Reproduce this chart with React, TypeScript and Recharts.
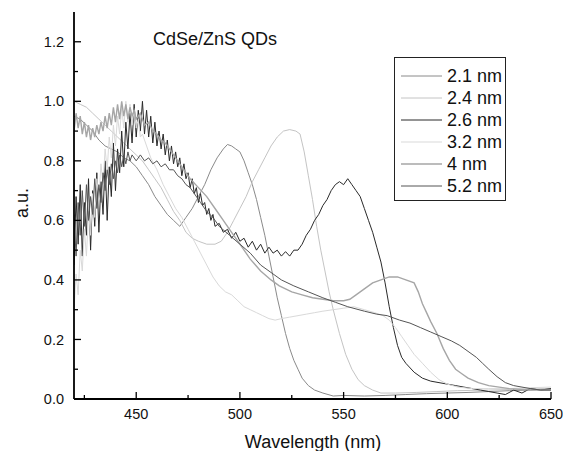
import { Legend, Line, LineChart, XAxis, YAxis } from "recharts";

type Pt = [number, number];

// [wavelength nm, normalised absorbance]
const s21: Pt[] = [
  [420, 0.95], [423, 0.94], [426, 0.92], [429, 0.9], [432, 0.87], [435, 0.85], [438, 0.84], [441, 0.83],
  [444, 0.81], [447, 0.8], [450, 0.78], [453, 0.75], [456, 0.72], [459, 0.68], [462, 0.65], [465, 0.62],
  [468, 0.6], [471, 0.58], [474, 0.61], [477, 0.64], [480, 0.68], [483, 0.72], [486, 0.77], [489, 0.81],
  [492, 0.84], [494, 0.855], [496, 0.85], [498, 0.84], [500, 0.83], [502, 0.8], [504, 0.76], [506, 0.72],
  [508, 0.67], [510, 0.61], [512, 0.55], [514, 0.48], [516, 0.41], [518, 0.34], [520, 0.28], [522, 0.22],
  [524, 0.17], [526, 0.13], [528, 0.1], [530, 0.07], [533, 0.045], [536, 0.03], [540, 0.02], [545, 0.01],
  [550, 0.012], [560, 0.01], [570, 0.012], [580, 0.015], [590, 0.018], [600, 0.02], [610, 0.022],
  [620, 0.025], [630, 0.028], [640, 0.03], [650, 0.035],
];

const s24: Pt[] = [
  [420, 1.0], [423, 0.99], [426, 0.98], [429, 0.96], [432, 0.94], [435, 0.92], [438, 0.9], [441, 0.88],
  [444, 0.86], [447, 0.84], [450, 0.82], [453, 0.8], [456, 0.77], [459, 0.74], [462, 0.71], [465, 0.67],
  [468, 0.63], [471, 0.6], [474, 0.56], [477, 0.54], [480, 0.53], [484, 0.52], [488, 0.52], [491, 0.53],
  [494, 0.56], [497, 0.6], [500, 0.64], [503, 0.68], [506, 0.73], [509, 0.77], [512, 0.81], [515, 0.85],
  [518, 0.88], [521, 0.9], [524, 0.905], [527, 0.9], [529, 0.89], [531, 0.83], [533, 0.75], [535, 0.67],
  [537, 0.58], [539, 0.5], [541, 0.43], [543, 0.36], [545, 0.3], [548, 0.22], [551, 0.15], [554, 0.1],
  [557, 0.065], [560, 0.045], [564, 0.03], [568, 0.02], [575, 0.02], [585, 0.022], [595, 0.025],
  [605, 0.028], [620, 0.03], [635, 0.033], [650, 0.035],
];

const s26: Pt[] = [
  [420, 0.45], [421, 0.68], [422, 0.52], [423, 0.72], [424, 0.48], [425, 0.66], [426, 0.55], [427, 0.74],
  [428, 0.5], [429, 0.7], [430, 0.58], [431, 0.76], [432, 0.56], [433, 0.73], [434, 0.62], [435, 0.8],
  [436, 0.6], [437, 0.78], [438, 0.68], [439, 0.86], [440, 0.7], [441, 0.84], [442, 0.76], [443, 0.9],
  [444, 0.78], [445, 0.93], [446, 0.84], [447, 0.96], [448, 0.86], [449, 0.99], [450, 0.88], [451, 0.97],
  [452, 0.9], [453, 1.0], [454, 0.89], [455, 0.97], [456, 0.88], [457, 0.95], [458, 0.86], [459, 0.93],
  [460, 0.85], [461, 0.9], [462, 0.84], [463, 0.89], [464, 0.82], [465, 0.87], [466, 0.8], [467, 0.85],
  [468, 0.79], [469, 0.83], [470, 0.78], [471, 0.81], [472, 0.75], [473, 0.79], [474, 0.74], [475, 0.76],
  [476, 0.71], [477, 0.74], [478, 0.69], [479, 0.71], [480, 0.66], [481, 0.69], [482, 0.65], [483, 0.66],
  [484, 0.62], [485, 0.64], [486, 0.6], [487, 0.62], [488, 0.58], [490, 0.59], [492, 0.56], [494, 0.57],
  [496, 0.54], [498, 0.56], [500, 0.53], [502, 0.54], [504, 0.51], [506, 0.53], [508, 0.5], [510, 0.52],
  [512, 0.49], [514, 0.51], [516, 0.49], [518, 0.5], [520, 0.48], [522, 0.495], [524, 0.48], [526, 0.5],
  [528, 0.5], [530, 0.52], [532, 0.55], [534, 0.57], [536, 0.6], [538, 0.62], [540, 0.65], [542, 0.67],
  [544, 0.7], [546, 0.72], [548, 0.73], [550, 0.72], [552, 0.74], [554, 0.72], [556, 0.7], [558, 0.68],
  [560, 0.64], [562, 0.6], [564, 0.56], [566, 0.51], [568, 0.46], [570, 0.39], [572, 0.31], [574, 0.24],
  [576, 0.18], [578, 0.14], [580, 0.12], [584, 0.09], [588, 0.07], [592, 0.06], [596, 0.055], [600, 0.05],
  [604, 0.045], [608, 0.04], [612, 0.035], [616, 0.03], [620, 0.025], [624, 0.02], [628, 0.015],
  [632, 0.03], [636, 0.02], [640, 0.035], [645, 0.03], [650, 0.035],
];

const s32: Pt[] = [
  [420, 0.3], [421, 0.42], [422, 0.35], [423, 0.5], [424, 0.43], [425, 0.57], [426, 0.48], [427, 0.63],
  [428, 0.55], [429, 0.69], [430, 0.61], [431, 0.74], [432, 0.67], [433, 0.79], [434, 0.72], [435, 0.84],
  [436, 0.77], [437, 0.88], [438, 0.81], [439, 0.92], [440, 0.85], [441, 0.95], [442, 0.89], [443, 0.98],
  [444, 0.91], [445, 1.0], [446, 0.93], [447, 0.99], [448, 0.92], [449, 0.97], [450, 0.91], [451, 0.94],
  [452, 0.88], [453, 0.89], [455, 0.85], [457, 0.81], [460, 0.77], [463, 0.72], [466, 0.68], [469, 0.64],
  [472, 0.61], [475, 0.57], [478, 0.53], [481, 0.49], [484, 0.45], [487, 0.41], [490, 0.38], [493, 0.36],
  [496, 0.35], [499, 0.33], [502, 0.31], [505, 0.3], [508, 0.29], [511, 0.28], [514, 0.27], [517, 0.265],
  [520, 0.27], [524, 0.275], [528, 0.28], [532, 0.285], [536, 0.29], [540, 0.295], [545, 0.3],
  [550, 0.305], [555, 0.31], [560, 0.3], [565, 0.29], [569, 0.28], [572, 0.265], [575, 0.24], [578, 0.21],
  [581, 0.18], [584, 0.15], [588, 0.12], [592, 0.09], [596, 0.065], [600, 0.05], [605, 0.04],
  [612, 0.035], [620, 0.035], [630, 0.035], [640, 0.038], [650, 0.04],
];

const s40: Pt[] = [
  [420, 0.9], [421, 0.96], [422, 0.91], [423, 0.95], [424, 0.89], [425, 0.93], [426, 0.88], [427, 0.92],
  [428, 0.87], [429, 0.91], [430, 0.88], [431, 0.92], [432, 0.89], [433, 0.93], [434, 0.9], [435, 0.95],
  [436, 0.91], [437, 0.96], [438, 0.92], [439, 0.98], [440, 0.93], [441, 0.99], [442, 0.94], [443, 1.0],
  [444, 0.95], [445, 0.99], [446, 0.94], [447, 0.98], [448, 0.95], [449, 0.97], [450, 0.94], [452, 0.96],
  [454, 0.92], [456, 0.93], [458, 0.9], [460, 0.89], [462, 0.87], [464, 0.86], [466, 0.84], [468, 0.82],
  [470, 0.8], [473, 0.77], [476, 0.74], [480, 0.71], [484, 0.68], [488, 0.64], [492, 0.6], [496, 0.56],
  [500, 0.52], [505, 0.47], [510, 0.43], [515, 0.4], [519, 0.38], [525, 0.36], [530, 0.35], [535, 0.34],
  [540, 0.335], [545, 0.33], [550, 0.33], [553, 0.335], [556, 0.35], [560, 0.37], [564, 0.39],
  [568, 0.4], [572, 0.41], [576, 0.41], [580, 0.4], [584, 0.39], [586, 0.36], [588, 0.32], [590, 0.29],
  [592, 0.26], [595, 0.22], [598, 0.17], [601, 0.13], [604, 0.1], [607, 0.085], [610, 0.07],
  [615, 0.055], [620, 0.045], [625, 0.04], [630, 0.035], [640, 0.03], [650, 0.03],
];

const s52: Pt[] = [
  [420, 0.62], [421, 0.48], [422, 0.66], [423, 0.55], [424, 0.7], [425, 0.58], [426, 0.72], [427, 0.6],
  [428, 0.68], [429, 0.62], [430, 0.74], [431, 0.64], [432, 0.72], [433, 0.66], [434, 0.76], [435, 0.7],
  [436, 0.77], [437, 0.72], [438, 0.79], [439, 0.74], [440, 0.8], [441, 0.76], [442, 0.82], [443, 0.78],
  [444, 0.82], [445, 0.79], [446, 0.83], [447, 0.8], [448, 0.82], [450, 0.8], [452, 0.82], [454, 0.8],
  [456, 0.81], [458, 0.79], [460, 0.8], [462, 0.78], [464, 0.79], [466, 0.77], [468, 0.77], [470, 0.75],
  [472, 0.74], [474, 0.72], [476, 0.71], [478, 0.69], [481, 0.66], [484, 0.63], [487, 0.61], [490, 0.58],
  [495, 0.55], [500, 0.52], [505, 0.49], [510, 0.45], [516, 0.42], [520, 0.4], [526, 0.38], [533, 0.36],
  [540, 0.34], [546, 0.325], [552, 0.31], [560, 0.295], [566, 0.285], [571, 0.28], [577, 0.265],
  [582, 0.255], [587, 0.24], [592, 0.225], [597, 0.21], [602, 0.195], [606, 0.18], [610, 0.16],
  [614, 0.14], [617, 0.12], [620, 0.1], [624, 0.075], [628, 0.055], [632, 0.045], [636, 0.04],
  [640, 0.035], [645, 0.03], [650, 0.03],
];

const seriesNames = ["2.1 nm", "2.4 nm", "2.6 nm", "3.2 nm", "4 nm", "5.2 nm"];
const seriesData = [s21, s24, s26, s32, s40, s52];
const seriesColors = ["#8a8a8a", "#c4c4c4", "#2a2a2a", "#d9d9d9", "#a6a6a6", "#555555"];
const seriesWidths = [1, 1, 1, 1, 1.4, 1];

const xTicks = [425, 450, 475, 500, 525, 550, 575, 600, 625, 650];
const yTicks = [0, 0.1, 0.2, 0.3, 0.4, 0.5, 0.6, 0.7, 0.8, 0.9, 1.0, 1.1, 1.2];

const FONT = '"Liberation Sans", Arial, Helvetica, sans-serif';
const AXIS = "#000";
const MAJOR = 7;
const MINOR = 4;

const isMajorX = (v: number) => v % 50 === 0;
const isMajorY = (v: number) => Math.round(v * 10) % 2 === 0;

function BottomTick(p: any) {
  const v = p.payload.value;
  const ay = p.y - 15;
  const len = isMajorX(v) ? MAJOR : MINOR;
  return (
    <g>
      <line x1={p.x} x2={p.x} y1={ay} y2={ay - len} stroke={AXIS} strokeWidth={1.3} />
      {isMajorX(v) ? (
        <text x={p.x} y={p.y} dy="0.35em" textAnchor="middle" fontSize={14.5} fontFamily={FONT} fill="#111">
          {v}
        </text>
      ) : null}
    </g>
  );
}

function TopTick(p: any) {
  const len = isMajorX(p.payload.value) ? MAJOR : MINOR;
  return <line x1={p.x} x2={p.x} y1={p.y} y2={p.y + len} stroke={AXIS} strokeWidth={1.3} />;
}

function LeftTick(p: any) {
  const v = p.payload.value;
  const ax = p.x + 10;
  const len = isMajorY(v) ? MAJOR : MINOR;
  return (
    <g>
      <line x1={ax} x2={ax + len} y1={p.y} y2={p.y} stroke={AXIS} strokeWidth={1.3} />
      {isMajorY(v) ? (
        <text x={p.x} y={p.y} dy="0.35em" textAnchor="end" fontSize={14.5} fontFamily={FONT} fill="#111">
          {v.toFixed(1)}
        </text>
      ) : null}
    </g>
  );
}

function RightTick(p: any) {
  const len = isMajorY(p.payload.value) ? MAJOR : MINOR;
  return <line x1={p.x} x2={p.x - len} y1={p.y} y2={p.y} stroke={AXIS} strokeWidth={1.3} />;
}

function LegendBox({ payload }: any) {
  return (
    <div style={{ border: "1px solid #222", background: "#fff", padding: "7px 0 3px 0", width: 110, fontFamily: FONT }}>
      {(payload || []).map((item: any) => {
        const i = seriesNames.indexOf(item.value);
        return (
          <div key={item.value} style={{ display: "flex", alignItems: "center", height: 22 }}>
            <svg width={52} height={22} style={{ display: "block" }}>
              <line x1={6} x2={47} y1={11} y2={11} stroke={seriesColors[i]} strokeWidth={seriesWidths[i]} />
            </svg>
            <span style={{ fontSize: 18, lineHeight: "22px", color: "#111" }}>{item.value}</span>
          </div>
        );
      })}
    </div>
  );
}

export default function App() {
  return (
    <div style={{ position: "relative", width: 563, height: 451, fontFamily: FONT, background: "#fff" }}>
      <style>{"body { margin: 0; }"}</style>
      <LineChart width={563} height={451} margin={{ top: 12, right: 12, bottom: 0, left: 0 }}>
        <XAxis
          xAxisId="bottom"
          dataKey="nm"
          type="number"
          domain={[420, 650]}
          allowDataOverflow
          ticks={xTicks}
          interval={0}
          height={52}
          tickSize={0}
          tickMargin={15}
          tickLine={false}
          axisLine={{ stroke: AXIS, strokeWidth: 1.8 }}
          tick={(p: any) => <BottomTick {...p} />}
        />
        <XAxis
          xAxisId="top"
          orientation="top"
          dataKey="nm"
          type="number"
          domain={[420, 650]}
          allowDataOverflow
          ticks={xTicks}
          interval={0}
          height={0}
          tickSize={0}
          tickMargin={0}
          tickLine={false}
          axisLine={{ stroke: AXIS, strokeWidth: 1.5 }}
          tick={(p: any) => <TopTick {...p} />}
        />
        <YAxis
          yAxisId="left"
          type="number"
          domain={[0, 1.3]}
          allowDataOverflow
          ticks={yTicks}
          interval={0}
          width={74}
          tickSize={0}
          tickMargin={10}
          tickLine={false}
          axisLine={{ stroke: AXIS, strokeWidth: 1.8 }}
          tick={(p: any) => <LeftTick {...p} />}
        />
        <YAxis
          yAxisId="right"
          orientation="right"
          type="number"
          domain={[0, 1.3]}
          allowDataOverflow
          ticks={yTicks}
          interval={0}
          width={0}
          tickSize={0}
          tickMargin={0}
          tickLine={false}
          axisLine={{ stroke: AXIS, strokeWidth: 1.5 }}
          tick={(p: any) => <RightTick {...p} />}
        />
        {seriesNames.map((name, i) => (
          <Line
            key={name}
            name={name}
            xAxisId="bottom"
            yAxisId="left"
            data={seriesData[i].map(([nm, v]) => ({ nm, v }))}
            dataKey="v"
            type="linear"
            stroke={seriesColors[i]}
            strokeWidth={seriesWidths[i]}
            dot={false}
            activeDot={false}
            isAnimationActive={false}
          />
        ))}
        <Legend
          layout="vertical"
          align="center"
          verticalAlign="middle"
          wrapperStyle={{ left: 394, top: 57, width: 112 }}
          content={(props: any) => <LegendBox {...props} />}
        />
      </LineChart>
      <div style={{ position: "absolute", left: 153, top: 30, fontSize: 18, lineHeight: "18px", color: "#111" }}>
        CdSe/ZnS QDs
      </div>
      <div
        style={{
          position: "absolute",
          left: 22,
          top: 203,
          fontSize: 18,
          lineHeight: "18px",
          whiteSpace: "nowrap",
          color: "#111",
          transform: "translate(-50%, -50%) rotate(-90deg)",
        }}
      >
        a.u.
      </div>
      <div
        style={{
          position: "absolute",
          left: 313,
          top: 433,
          fontSize: 18,
          lineHeight: "18px",
          whiteSpace: "nowrap",
          color: "#111",
        }}
      >
        <span style={{ display: "inline-block", transform: "translateX(-50%)" }}>Wavelength (nm)</span>
      </div>
    </div>
  );
}
